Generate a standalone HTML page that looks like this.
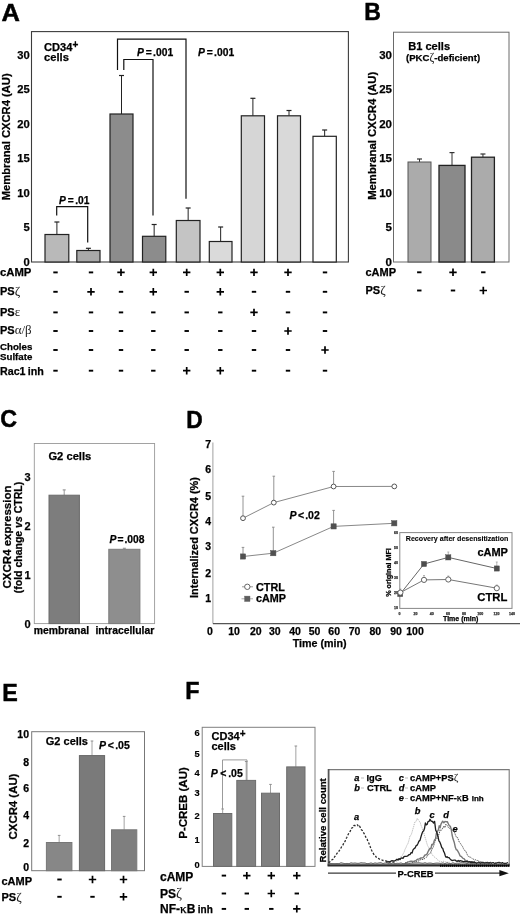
<!DOCTYPE html>
<html><head><meta charset="utf-8"><title>Figure</title>
<style>html,body{margin:0;padding:0;background:#fff;}svg{display:block;will-change:transform;}text{font-family:"Liberation Sans",sans-serif;}</style>
</head><body>
<svg width="520" height="916" viewBox="0 0 520 916" font-family="Liberation Sans, sans-serif">
<rect x="0" y="0" width="520" height="916" fill="#fff"/>
<text transform="translate(1.5,20.8) scale(1.04,1)" font-size="24.5" font-weight="bold" fill="#000" stroke="#000" stroke-width="0.5">A</text>
<text transform="translate(364.2,19.6) scale(0.96,1)" font-size="24" font-weight="bold" fill="#000" stroke="#000" stroke-width="0.5">B</text>
<text transform="translate(0.3,427.3) scale(0.97,1)" font-size="24" font-weight="bold" fill="#000" stroke="#000" stroke-width="0.5">C</text>
<text transform="translate(186.2,428) scale(0.95,1)" font-size="24" font-weight="bold" fill="#000" stroke="#000" stroke-width="0.5">D</text>
<text transform="translate(2.2,701.2) scale(0.97,1)" font-size="24" font-weight="bold" fill="#000" stroke="#000" stroke-width="0.5">E</text>
<text transform="translate(185.2,699) scale(0.97,1)" font-size="24" font-weight="bold" fill="#000" stroke="#000" stroke-width="0.5">F</text>
<rect x="31.5" y="31.6" width="316.9" height="230.4" fill="none" stroke="#3c3c3c" stroke-width="1.1" />
<text x="29.8" y="265.6" font-size="11.2" text-anchor="end" font-weight="bold" font-style="normal" fill="#000" stroke="#000" stroke-width="0.25" >0</text>
<text x="29.8" y="231.1" font-size="11.2" text-anchor="end" font-weight="bold" font-style="normal" fill="#000" stroke="#000" stroke-width="0.25" >5</text>
<text x="29.8" y="196.6" font-size="11.2" text-anchor="end" font-weight="bold" font-style="normal" fill="#000" stroke="#000" stroke-width="0.25" >10</text>
<text x="29.8" y="162.1" font-size="11.2" text-anchor="end" font-weight="bold" font-style="normal" fill="#000" stroke="#000" stroke-width="0.25" >15</text>
<text x="29.8" y="127.6" font-size="11.2" text-anchor="end" font-weight="bold" font-style="normal" fill="#000" stroke="#000" stroke-width="0.25" >20</text>
<text x="29.8" y="93.1" font-size="11.2" text-anchor="end" font-weight="bold" font-style="normal" fill="#000" stroke="#000" stroke-width="0.25" >25</text>
<text x="29.8" y="58.6" font-size="11.2" text-anchor="end" font-weight="bold" font-style="normal" fill="#000" stroke="#000" stroke-width="0.25" >30</text>
<text transform="translate(9.7,136.8) rotate(-90)" font-size="11.2" text-anchor="middle" font-weight="bold" fill="#000" stroke="#000" stroke-width="0.25" >Membranal CXCR4 (AU)</text>
<text x="44" y="51.3" font-size="11.1" text-anchor="start" font-weight="bold" font-style="normal" fill="#000" stroke="#000" stroke-width="0.25" >CD34<tspan dy="-3" font-size="10">+</tspan></text>
<text x="44" y="61.2" font-size="11.2" text-anchor="start" font-weight="bold" font-style="normal" fill="#000" stroke="#000" stroke-width="0.25" >cells</text>
<line x1="56.9" y1="222" x2="56.9" y2="234.5" stroke="#222" stroke-width="1.0" />
<line x1="54.4" y1="222" x2="59.4" y2="222" stroke="#222" stroke-width="1.2" />
<rect x="45" y="234.5" width="23.799999999999997" height="27.5" fill="#b9b9b9" stroke="#222" stroke-width="1.2" />
<line x1="88.4" y1="248.3" x2="88.4" y2="250.5" stroke="#222" stroke-width="1.0" />
<line x1="85.9" y1="248.3" x2="90.9" y2="248.3" stroke="#222" stroke-width="1.2" />
<rect x="76.8" y="250.5" width="23.200000000000003" height="11.5" fill="#a9a9a9" stroke="#222" stroke-width="1.2" />
<line x1="121.5" y1="75.5" x2="121.5" y2="114" stroke="#222" stroke-width="1.0" />
<line x1="119.0" y1="75.5" x2="124.0" y2="75.5" stroke="#222" stroke-width="1.2" />
<rect x="110" y="114" width="23" height="148.0" fill="#8c8c8c" stroke="#222" stroke-width="1.2" />
<line x1="154.15" y1="224.5" x2="154.15" y2="236.3" stroke="#222" stroke-width="1.0" />
<line x1="151.65" y1="224.5" x2="156.65" y2="224.5" stroke="#222" stroke-width="1.2" />
<rect x="142.5" y="236.3" width="23.30000000000001" height="25.69999999999999" fill="#8c8c8c" stroke="#222" stroke-width="1.2" />
<line x1="188.15" y1="208" x2="188.15" y2="220.5" stroke="#222" stroke-width="1.0" />
<line x1="185.65" y1="208" x2="190.65" y2="208" stroke="#222" stroke-width="1.2" />
<rect x="176.3" y="220.5" width="23.69999999999999" height="41.5" fill="#c4c4c4" stroke="#222" stroke-width="1.2" />
<line x1="220.65" y1="227" x2="220.65" y2="241.5" stroke="#222" stroke-width="1.0" />
<line x1="218.15" y1="227" x2="223.15" y2="227" stroke="#222" stroke-width="1.2" />
<rect x="209.3" y="241.5" width="22.69999999999999" height="20.5" fill="#dadada" stroke="#222" stroke-width="1.2" />
<line x1="252.9" y1="98.3" x2="252.9" y2="115.8" stroke="#222" stroke-width="1.0" />
<line x1="250.4" y1="98.3" x2="255.4" y2="98.3" stroke="#222" stroke-width="1.2" />
<rect x="241.3" y="115.8" width="23.19999999999999" height="146.2" fill="#d6d6d6" stroke="#222" stroke-width="1.2" />
<line x1="289.0" y1="110.5" x2="289.0" y2="115.8" stroke="#222" stroke-width="1.0" />
<line x1="286.5" y1="110.5" x2="291.5" y2="110.5" stroke="#222" stroke-width="1.2" />
<rect x="277.5" y="115.8" width="23.0" height="146.2" fill="#d9d9d9" stroke="#222" stroke-width="1.2" />
<line x1="324.65" y1="130" x2="324.65" y2="136.3" stroke="#222" stroke-width="1.0" />
<line x1="322.15" y1="130" x2="327.15" y2="130" stroke="#222" stroke-width="1.2" />
<rect x="313" y="136.3" width="23.30000000000001" height="125.69999999999999" fill="#ffffff" stroke="#222" stroke-width="1.2" />
<path d="M117.5 70V39.2H186V198.8" fill="none" stroke="#111" stroke-width="1.2"/>
<path d="M123.8 70V59.5H153V215.5" fill="none" stroke="#111" stroke-width="1.2"/>
<path d="M56.7 215.5V206.7H87.7V242.5" fill="none" stroke="#111" stroke-width="1.2"/>
<text x="137" y="55.8" font-size="10.3" text-anchor="start" font-weight="bold" font-style="normal" fill="#000" stroke="#000" stroke-width="0.25" ><tspan font-style="italic">P</tspan><tspan dx="1.8">=</tspan><tspan dx="1.4">.001</tspan></text>
<text x="198" y="55.8" font-size="10.3" text-anchor="start" font-weight="bold" font-style="normal" fill="#000" stroke="#000" stroke-width="0.25" ><tspan font-style="italic">P</tspan><tspan dx="1.8">=</tspan><tspan dx="1.4">.001</tspan></text>
<text x="59" y="203.5" font-size="10.2" text-anchor="start" font-weight="bold" font-style="normal" fill="#000" stroke="#000" stroke-width="0.25" ><tspan font-style="italic">P</tspan><tspan dx="2.0">=</tspan><tspan dx="1.4">.01</tspan></text>
<text x="0" y="276" font-size="11.3" text-anchor="start" font-weight="bold" font-style="normal" fill="#000" stroke="#000" stroke-width="0.25" >cAMP</text>
<text x="0" y="295" font-size="11" text-anchor="start" font-weight="bold" font-style="normal" fill="#000" stroke="#000" stroke-width="0.25" >PS<tspan font-family="Liberation Serif, serif" font-weight="normal" font-size="120%" stroke="none" fill="#222">ζ</tspan></text>
<text x="0" y="315.5" font-size="11" text-anchor="start" font-weight="bold" font-style="normal" fill="#000" stroke="#000" stroke-width="0.25" >PS<tspan font-family="Liberation Serif, serif" font-weight="normal" font-size="118%" stroke="none" fill="#222">ε</tspan></text>
<text x="0" y="334" font-size="11" text-anchor="start" font-weight="bold" font-style="normal" fill="#000" stroke="#000" stroke-width="0.25" >PS<tspan font-family="Liberation Serif, serif" font-weight="normal" font-size="118%" stroke="none" fill="#222">α/β</tspan></text>
<text x="0" y="350.2" font-size="9.7" text-anchor="start" font-weight="bold" font-style="normal" fill="#000" stroke="#000" stroke-width="0.25" >Choles</text>
<text x="0" y="359.8" font-size="9.7" text-anchor="start" font-weight="bold" font-style="normal" fill="#000" stroke="#000" stroke-width="0.25" >Sulfate</text>
<text x="0" y="375" font-size="10.7" text-anchor="start" font-weight="bold" font-style="normal" fill="#000" stroke="#000" stroke-width="0.25" word-spacing="-0.8">Rac1 inh</text>
<path d="M53.3 272.4H57.7" stroke="#000" stroke-width="1.9" fill="none"/>
<path d="M88.8 272.4H93.2" stroke="#000" stroke-width="1.9" fill="none"/>
<path d="M117.3 272.4H124.7M121 268.7V276.09999999999997" stroke="#000" stroke-width="1.7" fill="none"/>
<path d="M149.60000000000002 272.4H157.0M153.3 268.7V276.09999999999997" stroke="#000" stroke-width="1.7" fill="none"/>
<path d="M183.0 272.4H190.39999999999998M186.7 268.7V276.09999999999997" stroke="#000" stroke-width="1.7" fill="none"/>
<path d="M216.60000000000002 272.4H224.0M220.3 268.7V276.09999999999997" stroke="#000" stroke-width="1.7" fill="none"/>
<path d="M250.3 272.4H257.7M254 268.7V276.09999999999997" stroke="#000" stroke-width="1.7" fill="none"/>
<path d="M284.3 272.4H291.7M288 268.7V276.09999999999997" stroke="#000" stroke-width="1.7" fill="none"/>
<path d="M322.8 272.4H327.2" stroke="#000" stroke-width="1.9" fill="none"/>
<path d="M53.3 291.8H57.7" stroke="#000" stroke-width="1.9" fill="none"/>
<path d="M87.3 291.8H94.7M91 288.1V295.5" stroke="#000" stroke-width="1.7" fill="none"/>
<path d="M118.8 291.8H123.2" stroke="#000" stroke-width="1.9" fill="none"/>
<path d="M149.60000000000002 291.8H157.0M153.3 288.1V295.5" stroke="#000" stroke-width="1.7" fill="none"/>
<path d="M184.5 291.8H188.89999999999998" stroke="#000" stroke-width="1.9" fill="none"/>
<path d="M216.60000000000002 291.8H224.0M220.3 288.1V295.5" stroke="#000" stroke-width="1.7" fill="none"/>
<path d="M251.8 291.8H256.2" stroke="#000" stroke-width="1.9" fill="none"/>
<path d="M285.8 291.8H290.2" stroke="#000" stroke-width="1.9" fill="none"/>
<path d="M322.8 291.8H327.2" stroke="#000" stroke-width="1.9" fill="none"/>
<path d="M53.3 312.4H57.7" stroke="#000" stroke-width="1.9" fill="none"/>
<path d="M88.8 312.4H93.2" stroke="#000" stroke-width="1.9" fill="none"/>
<path d="M118.8 312.4H123.2" stroke="#000" stroke-width="1.9" fill="none"/>
<path d="M151.10000000000002 312.4H155.5" stroke="#000" stroke-width="1.9" fill="none"/>
<path d="M184.5 312.4H188.89999999999998" stroke="#000" stroke-width="1.9" fill="none"/>
<path d="M218.10000000000002 312.4H222.5" stroke="#000" stroke-width="1.9" fill="none"/>
<path d="M250.3 312.4H257.7M254 308.7V316.09999999999997" stroke="#000" stroke-width="1.7" fill="none"/>
<path d="M285.8 312.4H290.2" stroke="#000" stroke-width="1.9" fill="none"/>
<path d="M322.8 312.4H327.2" stroke="#000" stroke-width="1.9" fill="none"/>
<path d="M53.3 331H57.7" stroke="#000" stroke-width="1.9" fill="none"/>
<path d="M88.8 331H93.2" stroke="#000" stroke-width="1.9" fill="none"/>
<path d="M118.8 331H123.2" stroke="#000" stroke-width="1.9" fill="none"/>
<path d="M151.10000000000002 331H155.5" stroke="#000" stroke-width="1.9" fill="none"/>
<path d="M184.5 331H188.89999999999998" stroke="#000" stroke-width="1.9" fill="none"/>
<path d="M218.10000000000002 331H222.5" stroke="#000" stroke-width="1.9" fill="none"/>
<path d="M251.8 331H256.2" stroke="#000" stroke-width="1.9" fill="none"/>
<path d="M284.3 331H291.7M288 327.3V334.7" stroke="#000" stroke-width="1.7" fill="none"/>
<path d="M322.8 331H327.2" stroke="#000" stroke-width="1.9" fill="none"/>
<path d="M53.3 350H57.7" stroke="#000" stroke-width="1.9" fill="none"/>
<path d="M88.8 350H93.2" stroke="#000" stroke-width="1.9" fill="none"/>
<path d="M118.8 350H123.2" stroke="#000" stroke-width="1.9" fill="none"/>
<path d="M151.10000000000002 350H155.5" stroke="#000" stroke-width="1.9" fill="none"/>
<path d="M184.5 350H188.89999999999998" stroke="#000" stroke-width="1.9" fill="none"/>
<path d="M218.10000000000002 350H222.5" stroke="#000" stroke-width="1.9" fill="none"/>
<path d="M251.8 350H256.2" stroke="#000" stroke-width="1.9" fill="none"/>
<path d="M285.8 350H290.2" stroke="#000" stroke-width="1.9" fill="none"/>
<path d="M321.3 350H328.7M325 346.3V353.7" stroke="#000" stroke-width="1.7" fill="none"/>
<path d="M53.3 370.7H57.7" stroke="#000" stroke-width="1.9" fill="none"/>
<path d="M88.8 370.7H93.2" stroke="#000" stroke-width="1.9" fill="none"/>
<path d="M118.8 370.7H123.2" stroke="#000" stroke-width="1.9" fill="none"/>
<path d="M151.10000000000002 370.7H155.5" stroke="#000" stroke-width="1.9" fill="none"/>
<path d="M183.0 370.7H190.39999999999998M186.7 367.0V374.4" stroke="#000" stroke-width="1.7" fill="none"/>
<path d="M216.60000000000002 370.7H224.0M220.3 367.0V374.4" stroke="#000" stroke-width="1.7" fill="none"/>
<path d="M251.8 370.7H256.2" stroke="#000" stroke-width="1.9" fill="none"/>
<path d="M285.8 370.7H290.2" stroke="#000" stroke-width="1.9" fill="none"/>
<path d="M322.8 370.7H327.2" stroke="#000" stroke-width="1.9" fill="none"/>
<rect x="393.5" y="32.2" width="115.5" height="229.8" fill="none" stroke="#6a6a6a" stroke-width="1" />
<text x="392" y="265.8" font-size="11.5" text-anchor="end" font-weight="bold" font-style="normal" fill="#000" stroke="#000" stroke-width="0.25" >0</text>
<text x="392" y="231.3" font-size="11.5" text-anchor="end" font-weight="bold" font-style="normal" fill="#000" stroke="#000" stroke-width="0.25" >5</text>
<text x="392" y="196.8" font-size="11.5" text-anchor="end" font-weight="bold" font-style="normal" fill="#000" stroke="#000" stroke-width="0.25" >10</text>
<text x="392" y="162.3" font-size="11.5" text-anchor="end" font-weight="bold" font-style="normal" fill="#000" stroke="#000" stroke-width="0.25" >15</text>
<text x="392" y="127.8" font-size="11.5" text-anchor="end" font-weight="bold" font-style="normal" fill="#000" stroke="#000" stroke-width="0.25" >20</text>
<text x="392" y="93.3" font-size="11.5" text-anchor="end" font-weight="bold" font-style="normal" fill="#000" stroke="#000" stroke-width="0.25" >25</text>
<text x="392" y="58.8" font-size="11.5" text-anchor="end" font-weight="bold" font-style="normal" fill="#000" stroke="#000" stroke-width="0.25" >30</text>
<text transform="translate(376,135.8) rotate(-90)" font-size="11.3" text-anchor="middle" font-weight="bold" fill="#000" stroke="#000" stroke-width="0.25" >Membranal CXCR4 (AU)</text>
<text x="408.2" y="49.5" font-size="11.1" text-anchor="start" font-weight="bold" font-style="normal" fill="#000" stroke="#000" stroke-width="0.25" >B1 cells</text>
<text x="406" y="61.2" font-size="9.6" text-anchor="start" font-weight="bold" font-style="normal" fill="#000" stroke="#000" stroke-width="0.25" >(PKC<tspan font-family="Liberation Serif, serif" font-weight="normal" font-size="120%" stroke="none" fill="#222">ζ</tspan>-deficient)</text>
<line x1="419.5" y1="159" x2="419.5" y2="162" stroke="#333" stroke-width="1.0" />
<line x1="417.0" y1="159" x2="422.0" y2="159" stroke="#333" stroke-width="1.2" />
<rect x="408" y="162" width="23" height="100.0" fill="#ababab" stroke="#555" stroke-width="1" />
<line x1="452.0" y1="152.6" x2="452.0" y2="165.4" stroke="#333" stroke-width="1.0" />
<line x1="449.5" y1="152.6" x2="454.5" y2="152.6" stroke="#333" stroke-width="1.2" />
<rect x="439" y="165.4" width="26" height="96.6" fill="#8a8a8a" stroke="#222" stroke-width="1.3" />
<line x1="482.95" y1="154" x2="482.95" y2="157.2" stroke="#333" stroke-width="1.0" />
<line x1="480.45" y1="154" x2="485.45" y2="154" stroke="#333" stroke-width="1.2" />
<rect x="471.5" y="157.2" width="22.899999999999977" height="104.80000000000001" fill="#ababab" stroke="#222" stroke-width="1.3" />
<text x="365.5" y="275.8" font-size="11" text-anchor="start" font-weight="bold" font-style="normal" fill="#000" stroke="#000" stroke-width="0.25" >cAMP</text>
<text x="365.5" y="293.8" font-size="11" text-anchor="start" font-weight="bold" font-style="normal" fill="#000" stroke="#000" stroke-width="0.25" >PS<tspan font-family="Liberation Serif, serif" font-weight="normal" font-size="120%" stroke="none" fill="#222">ζ</tspan></text>
<path d="M417.1 272.3H421.5" stroke="#000" stroke-width="1.9" fill="none"/>
<path d="M417.1 290.5H421.5" stroke="#000" stroke-width="1.9" fill="none"/>
<path d="M449.3 272.3H456.7M453 268.6V276.0" stroke="#000" stroke-width="1.7" fill="none"/>
<path d="M450.8 290.5H455.2" stroke="#000" stroke-width="1.9" fill="none"/>
<path d="M481.1 272.3H485.5" stroke="#000" stroke-width="1.9" fill="none"/>
<path d="M479.6 290.5H487.0M483.3 286.8V294.2" stroke="#000" stroke-width="1.7" fill="none"/>
<rect x="34.3" y="443.5" width="120.3" height="180.10000000000002" fill="none" stroke="#999" stroke-width="0.9" />
<text x="30.5" y="627.8000000000001" font-size="11" text-anchor="end" font-weight="bold" font-style="normal" fill="#000" stroke="#000" stroke-width="0.25" >0</text>
<text x="30.5" y="579.4" font-size="11" text-anchor="end" font-weight="bold" font-style="normal" fill="#000" stroke="#000" stroke-width="0.25" >1</text>
<text x="30.5" y="530.2" font-size="11" text-anchor="end" font-weight="bold" font-style="normal" fill="#000" stroke="#000" stroke-width="0.25" >2</text>
<text x="30.5" y="481.0" font-size="11" text-anchor="end" font-weight="bold" font-style="normal" fill="#000" stroke="#000" stroke-width="0.25" >3</text>
<text transform="translate(10.5,537) rotate(-90)" font-size="11.5" text-anchor="middle" font-weight="bold" fill="#000" stroke="#000" stroke-width="0.25" >CXCR4 expression</text>
<text transform="translate(22,537.5) rotate(-90)" font-size="10.5" text-anchor="middle" font-weight="bold" fill="#000" stroke="#000" stroke-width="0.25" >(fold change <tspan font-style="italic">vs</tspan> CTRL)</text>
<text x="48.4" y="459.5" font-size="11.2" text-anchor="start" font-weight="bold" font-style="normal" fill="#000" stroke="#000" stroke-width="0.25" >G2 cells</text>
<line x1="64.2" y1="489.9" x2="64.2" y2="495.2" stroke="#999" stroke-width="1.0" />
<line x1="62.7" y1="489.9" x2="65.7" y2="489.9" stroke="#999" stroke-width="1.2" />
<rect x="49" y="495.2" width="30.400000000000006" height="128.40000000000003" fill="#7d7d7d" stroke="#6a6a6a" stroke-width="1" />
<line x1="124.35" y1="548.3" x2="124.35" y2="549.3" stroke="#999" stroke-width="1.0" />
<line x1="122.85" y1="548.3" x2="125.85" y2="548.3" stroke="#999" stroke-width="1.2" />
<rect x="108.8" y="549.3" width="31.10000000000001" height="74.30000000000007" fill="#8e8e8e" stroke="#7c7c7c" stroke-width="1" />
<text x="109.5" y="542.8" font-size="10.3" text-anchor="start" font-weight="bold" font-style="normal" fill="#000" stroke="#000" stroke-width="0.25" ><tspan font-style="italic">P</tspan><tspan dx="1.2">=</tspan><tspan dx="0.8">.008</tspan></text>
<text x="33.7" y="633.7" font-size="10.4" text-anchor="start" font-weight="bold" font-style="normal" fill="#000" stroke="#000" stroke-width="0.25" >membranal</text>
<text x="95.4" y="633.7" font-size="10.4" text-anchor="start" font-weight="bold" font-style="normal" fill="#000" stroke="#000" stroke-width="0.25" >intracellular</text>
<line x1="212.9" y1="442.5" x2="212.9" y2="623.7" stroke="#a0a0a0" stroke-width="1" />
<line x1="213" y1="623.7" x2="520" y2="623.7" stroke="#555" stroke-width="1.2" />
<text x="211" y="448" font-size="10.5" text-anchor="end" font-weight="bold" font-style="normal" fill="#000" stroke="#000" stroke-width="0.25" >7</text>
<text x="211" y="473.3" font-size="10.5" text-anchor="end" font-weight="bold" font-style="normal" fill="#000" stroke="#000" stroke-width="0.25" >6</text>
<text x="211" y="499.5" font-size="10.5" text-anchor="end" font-weight="bold" font-style="normal" fill="#000" stroke="#000" stroke-width="0.25" >5</text>
<text x="211" y="525" font-size="10.5" text-anchor="end" font-weight="bold" font-style="normal" fill="#000" stroke="#000" stroke-width="0.25" >4</text>
<text x="211" y="550" font-size="10.5" text-anchor="end" font-weight="bold" font-style="normal" fill="#000" stroke="#000" stroke-width="0.25" >3</text>
<text x="211" y="577" font-size="10.5" text-anchor="end" font-weight="bold" font-style="normal" fill="#000" stroke="#000" stroke-width="0.25" >2</text>
<text x="211" y="602.4" font-size="10.5" text-anchor="end" font-weight="bold" font-style="normal" fill="#000" stroke="#000" stroke-width="0.25" >1</text>
<text x="210" y="634.6" font-size="10.5" text-anchor="middle" font-weight="bold" font-style="normal" fill="#000" stroke="#000" stroke-width="0.25" >0</text>
<text x="234" y="634.6" font-size="10.5" text-anchor="middle" font-weight="bold" font-style="normal" fill="#000" stroke="#000" stroke-width="0.25" >10</text>
<text x="255.8" y="634.6" font-size="10.5" text-anchor="middle" font-weight="bold" font-style="normal" fill="#000" stroke="#000" stroke-width="0.25" >20</text>
<text x="274.8" y="634.6" font-size="10.5" text-anchor="middle" font-weight="bold" font-style="normal" fill="#000" stroke="#000" stroke-width="0.25" >30</text>
<text x="295" y="634.6" font-size="10.5" text-anchor="middle" font-weight="bold" font-style="normal" fill="#000" stroke="#000" stroke-width="0.25" >40</text>
<text x="314.6" y="634.6" font-size="10.5" text-anchor="middle" font-weight="bold" font-style="normal" fill="#000" stroke="#000" stroke-width="0.25" >50</text>
<text x="334.2" y="634.6" font-size="10.5" text-anchor="middle" font-weight="bold" font-style="normal" fill="#000" stroke="#000" stroke-width="0.25" >60</text>
<text x="354.5" y="634.6" font-size="10.5" text-anchor="middle" font-weight="bold" font-style="normal" fill="#000" stroke="#000" stroke-width="0.25" >70</text>
<text x="375.3" y="634.6" font-size="10.5" text-anchor="middle" font-weight="bold" font-style="normal" fill="#000" stroke="#000" stroke-width="0.25" >80</text>
<text x="396" y="634.6" font-size="10.5" text-anchor="middle" font-weight="bold" font-style="normal" fill="#000" stroke="#000" stroke-width="0.25" >90</text>
<text x="415" y="634.6" font-size="10.5" text-anchor="middle" font-weight="bold" font-style="normal" fill="#000" stroke="#000" stroke-width="0.25" >100</text>
<text x="292.7" y="647" font-size="10.7" text-anchor="start" font-weight="bold" font-style="normal" fill="#000" stroke="#000" stroke-width="0.25" >Time (min)</text>
<text transform="translate(197.5,537.5) rotate(-90)" font-size="10.95" text-anchor="middle" font-weight="bold" fill="#000" stroke="#000" stroke-width="0.25" >Internalized CXCR4 (%)</text>
<line x1="243" y1="496.2" x2="243" y2="518.2" stroke="#888" stroke-width="0.9" />
<line x1="241.7" y1="496.2" x2="244.3" y2="496.2" stroke="#888" stroke-width="0.9" />
<line x1="273.8" y1="476.2" x2="273.8" y2="502.6" stroke="#888" stroke-width="0.9" />
<line x1="272.5" y1="476.2" x2="275.1" y2="476.2" stroke="#888" stroke-width="0.9" />
<line x1="333.6" y1="471.4" x2="333.6" y2="486.5" stroke="#888" stroke-width="0.9" />
<line x1="332.3" y1="471.4" x2="334.90000000000003" y2="471.4" stroke="#888" stroke-width="0.9" />
<line x1="243" y1="547.4" x2="243" y2="556.5" stroke="#888" stroke-width="0.9" />
<line x1="241.7" y1="547.4" x2="244.3" y2="547.4" stroke="#888" stroke-width="0.9" />
<line x1="273.3" y1="527.2" x2="273.3" y2="553.2" stroke="#888" stroke-width="0.9" />
<line x1="272.0" y1="527.2" x2="274.6" y2="527.2" stroke="#888" stroke-width="0.9" />
<line x1="333.6" y1="510.4" x2="333.6" y2="526.4" stroke="#888" stroke-width="0.9" />
<line x1="332.3" y1="510.4" x2="334.90000000000003" y2="510.4" stroke="#888" stroke-width="0.9" />
<polyline points="243,518.2 273.8,502.6 333.6,486.5 394.3,486.4" fill="none" stroke="#888" stroke-width="1"/>
<polyline points="243,556.5 273.3,553.2 333.6,526.4 394.3,523.3" fill="none" stroke="#888" stroke-width="1"/>
<circle cx="243" cy="518.2" r="2.4" fill="#fff" stroke="#555" stroke-width="1"/>
<circle cx="273.8" cy="502.6" r="2.4" fill="#fff" stroke="#555" stroke-width="1"/>
<circle cx="333.6" cy="486.5" r="2.4" fill="#fff" stroke="#555" stroke-width="1"/>
<circle cx="394.3" cy="486.4" r="2.4" fill="#fff" stroke="#555" stroke-width="1"/>
<rect x="240.4" y="553.9" width="5.2" height="5.2" fill="#505050" stroke="#505050" stroke-width="0.5" />
<rect x="270.7" y="550.6" width="5.2" height="5.2" fill="#505050" stroke="#505050" stroke-width="0.5" />
<rect x="331.0" y="523.8" width="5.2" height="5.2" fill="#505050" stroke="#505050" stroke-width="0.5" />
<rect x="391.7" y="520.6999999999999" width="5.2" height="5.2" fill="#505050" stroke="#505050" stroke-width="0.5" />
<text x="289.5" y="518.5" font-size="10.5" text-anchor="start" font-weight="bold" font-style="normal" fill="#000" stroke="#000" stroke-width="0.25" ><tspan font-style="italic">P</tspan><tspan dx="1.5">&lt;</tspan><tspan dx="1.0">.02</tspan></text>
<line x1="242" y1="586.8" x2="253" y2="586.8" stroke="#999" stroke-width="1" />
<circle cx="247.3" cy="586.8" r="2.7" fill="#fff" stroke="#666" stroke-width="1"/>
<text x="256" y="590.6" font-size="10.8" text-anchor="start" font-weight="bold" font-style="normal" fill="#000" stroke="#000" stroke-width="0.25" >CTRL</text>
<line x1="241.5" y1="598.8" x2="253" y2="598.8" stroke="#aaa" stroke-width="1" />
<rect x="244.6" y="596.1" width="5.4" height="5.4" fill="#5e5e5e" stroke="#5e5e5e" stroke-width="0.4" />
<text x="256" y="602.4" font-size="10.8" text-anchor="start" font-weight="bold" font-style="normal" fill="#000" stroke="#000" stroke-width="0.25" >cAMP</text>
<rect x="399.8" y="532.6" width="112.2" height="75.8" fill="#fff" stroke="#888" stroke-width="1" />
<text x="405.8" y="540.8" font-size="7.1" text-anchor="start" font-weight="bold" font-style="normal" fill="#000" stroke="#000" stroke-width="0.1" >Recovery after desensitization</text>
<text transform="translate(390.6,572.5) rotate(-90)" font-size="7.2" text-anchor="middle" font-weight="bold" fill="#000" stroke="#000" stroke-width="0.25" >% original MFI</text>
<text x="398" y="534.1999999999999" font-size="3.6" text-anchor="end" font-weight="bold" font-style="normal" fill="#333" stroke="#333" stroke-width="0.25" >60</text>
<text x="398" y="549.1" font-size="3.6" text-anchor="end" font-weight="bold" font-style="normal" fill="#333" stroke="#333" stroke-width="0.25" >50</text>
<text x="398" y="564.0" font-size="3.6" text-anchor="end" font-weight="bold" font-style="normal" fill="#333" stroke="#333" stroke-width="0.25" >40</text>
<text x="398" y="579.1999999999999" font-size="3.6" text-anchor="end" font-weight="bold" font-style="normal" fill="#333" stroke="#333" stroke-width="0.25" >30</text>
<text x="398" y="594.1" font-size="3.6" text-anchor="end" font-weight="bold" font-style="normal" fill="#333" stroke="#333" stroke-width="0.25" >20</text>
<text x="398" y="609.4" font-size="3.6" text-anchor="end" font-weight="bold" font-style="normal" fill="#333" stroke="#333" stroke-width="0.25" >10</text>
<text x="399.5" y="614.8" font-size="3.6" text-anchor="middle" font-weight="bold" font-style="normal" fill="#333" stroke="#333" stroke-width="0.25" >0</text>
<text x="415.5" y="614.8" font-size="3.6" text-anchor="middle" font-weight="bold" font-style="normal" fill="#333" stroke="#333" stroke-width="0.25" >20</text>
<text x="431.7" y="614.8" font-size="3.6" text-anchor="middle" font-weight="bold" font-style="normal" fill="#333" stroke="#333" stroke-width="0.25" >40</text>
<text x="448" y="614.8" font-size="3.6" text-anchor="middle" font-weight="bold" font-style="normal" fill="#333" stroke="#333" stroke-width="0.25" >60</text>
<text x="464" y="614.8" font-size="3.6" text-anchor="middle" font-weight="bold" font-style="normal" fill="#333" stroke="#333" stroke-width="0.25" >80</text>
<text x="480.2" y="614.8" font-size="3.6" text-anchor="middle" font-weight="bold" font-style="normal" fill="#333" stroke="#333" stroke-width="0.25" >100</text>
<text x="496.5" y="614.8" font-size="3.6" text-anchor="middle" font-weight="bold" font-style="normal" fill="#333" stroke="#333" stroke-width="0.25" >120</text>
<text x="512" y="614.8" font-size="3.6" text-anchor="middle" font-weight="bold" font-style="normal" fill="#333" stroke="#333" stroke-width="0.25" >140</text>
<text x="443" y="621" font-size="7" text-anchor="start" font-weight="bold" font-style="normal" fill="#000" stroke="#000" stroke-width="0.25" >Time (min)</text>
<line x1="448.3" y1="552" x2="448.3" y2="557.4" stroke="#999" stroke-width="0.7" />
<line x1="447.3" y1="552" x2="449.3" y2="552" stroke="#999" stroke-width="0.7" />
<line x1="496.8" y1="562" x2="496.8" y2="568.5" stroke="#999" stroke-width="0.7" />
<line x1="495.8" y1="562" x2="497.8" y2="562" stroke="#999" stroke-width="0.7" />
<line x1="400.4" y1="589" x2="400.4" y2="592.6" stroke="#999" stroke-width="0.7" />
<line x1="399.4" y1="589" x2="401.4" y2="589" stroke="#999" stroke-width="0.7" />
<line x1="424" y1="575.5" x2="424" y2="579.9" stroke="#999" stroke-width="0.7" />
<line x1="423" y1="575.5" x2="425" y2="575.5" stroke="#999" stroke-width="0.7" />
<line x1="448.3" y1="576" x2="448.3" y2="579.5" stroke="#999" stroke-width="0.7" />
<line x1="447.3" y1="576" x2="449.3" y2="576" stroke="#999" stroke-width="0.7" />
<line x1="496.8" y1="585" x2="496.8" y2="588.2" stroke="#999" stroke-width="0.7" />
<line x1="495.8" y1="585" x2="497.8" y2="585" stroke="#999" stroke-width="0.7" />
<polyline points="400.2,594 424,564 448.3,557.4 496.8,568.5" fill="none" stroke="#666" stroke-width="1"/>
<polyline points="400.4,592.6 424,579.9 448.3,579.5 496.8,588.2" fill="none" stroke="#777" stroke-width="1"/>
<rect x="397.59999999999997" y="591.4" width="5.2" height="5.2" fill="#4d4d4d" stroke="#4d4d4d" stroke-width="0.4" />
<rect x="421.4" y="561.4" width="5.2" height="5.2" fill="#4d4d4d" stroke="#4d4d4d" stroke-width="0.4" />
<rect x="445.7" y="554.8" width="5.2" height="5.2" fill="#4d4d4d" stroke="#4d4d4d" stroke-width="0.4" />
<rect x="494.2" y="565.9" width="5.2" height="5.2" fill="#4d4d4d" stroke="#4d4d4d" stroke-width="0.4" />
<circle cx="400.4" cy="592.6" r="2.6" fill="#fff" stroke="#555" stroke-width="0.9"/>
<circle cx="424" cy="579.9" r="2.6" fill="#fff" stroke="#555" stroke-width="0.9"/>
<circle cx="448.3" cy="579.5" r="2.6" fill="#fff" stroke="#555" stroke-width="0.9"/>
<circle cx="496.8" cy="588.2" r="2.6" fill="#fff" stroke="#555" stroke-width="0.9"/>
<text x="477.4" y="556.3" font-size="11" text-anchor="start" font-weight="bold" font-style="normal" fill="#000" stroke="#000" stroke-width="0.25" >cAMP</text>
<text x="477.3" y="600.5" font-size="11.3" text-anchor="start" font-weight="bold" font-style="normal" fill="#000" stroke="#000" stroke-width="0.25" >CTRL</text>
<rect x="31.7" y="731.7" width="112.8" height="139.0" fill="none" stroke="#777" stroke-width="1" />
<text x="29" y="737.7" font-size="10.5" text-anchor="end" font-weight="bold" font-style="normal" fill="#000" stroke="#000" stroke-width="0.25" >10</text>
<text x="29" y="765.5" font-size="10.5" text-anchor="end" font-weight="bold" font-style="normal" fill="#000" stroke="#000" stroke-width="0.25" >8</text>
<text x="29" y="792.3" font-size="10.5" text-anchor="end" font-weight="bold" font-style="normal" fill="#000" stroke="#000" stroke-width="0.25" >6</text>
<text x="29" y="819.3" font-size="10.5" text-anchor="end" font-weight="bold" font-style="normal" fill="#000" stroke="#000" stroke-width="0.25" >4</text>
<text x="29" y="846.5" font-size="10.5" text-anchor="end" font-weight="bold" font-style="normal" fill="#000" stroke="#000" stroke-width="0.25" >2</text>
<text x="29" y="871" font-size="10.5" text-anchor="end" font-weight="bold" font-style="normal" fill="#000" stroke="#000" stroke-width="0.25" >0</text>
<text transform="translate(17.2,806.5) rotate(-90)" font-size="11.4" text-anchor="middle" font-weight="bold" fill="#000" stroke="#000" stroke-width="0.25" >CXCR4 (AU)</text>
<text x="45.8" y="744.6" font-size="11" text-anchor="start" font-weight="bold" font-style="normal" fill="#000" stroke="#000" stroke-width="0.25" >G2 cells</text>
<text x="99" y="748.8" font-size="10.5" text-anchor="start" font-weight="bold" font-style="normal" fill="#000" stroke="#000" stroke-width="0.25" ><tspan font-style="italic">P</tspan><tspan dx="1.8">&lt;</tspan><tspan dx="1.2">.05</tspan></text>
<line x1="59.150000000000006" y1="835.4" x2="59.150000000000006" y2="842.5" stroke="#8c8c8c" stroke-width="0.8" />
<line x1="57.85000000000001" y1="835.4" x2="60.45" y2="835.4" stroke="#8c8c8c" stroke-width="0.96" />
<rect x="46.4" y="842.5" width="25.500000000000007" height="28.200000000000045" fill="#878787" stroke="#777" stroke-width="1" />
<line x1="92.0" y1="741" x2="92.0" y2="755.6" stroke="#8c8c8c" stroke-width="0.8" />
<line x1="90.7" y1="741" x2="93.3" y2="741" stroke="#8c8c8c" stroke-width="0.96" />
<rect x="79.4" y="755.6" width="25.19999999999999" height="115.10000000000002" fill="#7a7a7a" stroke="#666" stroke-width="1" />
<line x1="124.15" y1="816.4" x2="124.15" y2="829.8" stroke="#8c8c8c" stroke-width="0.8" />
<line x1="122.85000000000001" y1="816.4" x2="125.45" y2="816.4" stroke="#8c8c8c" stroke-width="0.96" />
<rect x="111.5" y="829.8" width="25.30000000000001" height="40.90000000000009" fill="#7e7e7e" stroke="#777" stroke-width="1" />
<text x="1.5" y="885" font-size="11" text-anchor="start" font-weight="bold" font-style="normal" fill="#000" stroke="#000" stroke-width="0.25" >cAMP</text>
<text x="1.5" y="900.7" font-size="11" text-anchor="start" font-weight="bold" font-style="normal" fill="#000" stroke="#000" stroke-width="0.25" >PS<tspan font-family="Liberation Serif, serif" font-weight="normal" font-size="120%" stroke="none" fill="#222">ζ</tspan></text>
<path d="M57.3 879.5H61.7" stroke="#000" stroke-width="1.9" fill="none"/>
<path d="M57.3 896.8H61.7" stroke="#000" stroke-width="1.9" fill="none"/>
<path d="M88.8 879.5H96.2M92.5 875.8V883.2" stroke="#000" stroke-width="1.7" fill="none"/>
<path d="M90.3 896.8H94.7" stroke="#000" stroke-width="1.9" fill="none"/>
<path d="M119.8 879.5H127.2M123.5 875.8V883.2" stroke="#000" stroke-width="1.7" fill="none"/>
<path d="M119.8 896.8H127.2M123.5 893.0999999999999V900.5" stroke="#000" stroke-width="1.7" fill="none"/>
<rect x="202.2" y="727.3" width="112.8" height="139.10000000000002" fill="none" stroke="#808080" stroke-width="1" />
<text x="199.6" y="736.1" font-size="9.3" text-anchor="end" font-weight="bold" font-style="normal" fill="#000" stroke="#000" stroke-width="0.15" >6</text>
<text x="199.6" y="757.1" font-size="9.3" text-anchor="end" font-weight="bold" font-style="normal" fill="#000" stroke="#000" stroke-width="0.15" >5</text>
<text x="199.6" y="776.1" font-size="9.3" text-anchor="end" font-weight="bold" font-style="normal" fill="#000" stroke="#000" stroke-width="0.15" >4</text>
<text x="199.6" y="796.3" font-size="9.3" text-anchor="end" font-weight="bold" font-style="normal" fill="#000" stroke="#000" stroke-width="0.15" >3</text>
<text x="199.6" y="819.3" font-size="9.3" text-anchor="end" font-weight="bold" font-style="normal" fill="#000" stroke="#000" stroke-width="0.15" >2</text>
<text x="199.6" y="843.1" font-size="9.3" text-anchor="end" font-weight="bold" font-style="normal" fill="#000" stroke="#000" stroke-width="0.15" >1</text>
<text x="199.6" y="867.5" font-size="9.3" text-anchor="end" font-weight="bold" font-style="normal" fill="#000" stroke="#000" stroke-width="0.15" >0</text>
<text transform="translate(187,803) rotate(-90)" font-size="11.5" text-anchor="middle" font-weight="bold" fill="#000" stroke="#000" stroke-width="0.25" >P-CREB (AU)</text>
<text x="211.5" y="739.6" font-size="11" text-anchor="start" font-weight="bold" font-style="normal" fill="#000" stroke="#000" stroke-width="0.25" >CD34<tspan dy="-3" font-size="10">+</tspan></text>
<text x="211.5" y="750" font-size="11" text-anchor="start" font-weight="bold" font-style="normal" fill="#000" stroke="#000" stroke-width="0.25" >cells</text>
<path d="M222.5 809V759.9H247V780" fill="none" stroke="#909090" stroke-width="0.9"/>
<text x="210.8" y="776.9" font-size="10.5" text-anchor="start" font-weight="bold" font-style="normal" fill="#000" stroke="#000" stroke-width="0.25" ><tspan font-style="italic">P</tspan><tspan dx="2.4">&lt;</tspan><tspan dx="1.8">.05</tspan></text>
<line x1="222.65" y1="809" x2="222.65" y2="813.5" stroke="#8c8c8c" stroke-width="0.8" />
<line x1="221.35" y1="809" x2="223.95000000000002" y2="809" stroke="#8c8c8c" stroke-width="0.96" />
<rect x="213.5" y="813.5" width="18.30000000000001" height="52.89999999999998" fill="#808080" stroke="#6c6c6c" stroke-width="1" />
<line x1="246.2" y1="761.5" x2="246.2" y2="780.4" stroke="#8c8c8c" stroke-width="0.8" />
<line x1="244.89999999999998" y1="761.5" x2="247.5" y2="761.5" stroke="#8c8c8c" stroke-width="0.96" />
<rect x="236.8" y="780.4" width="18.799999999999983" height="86.0" fill="#808080" stroke="#6c6c6c" stroke-width="1" />
<line x1="270.5" y1="784.4" x2="270.5" y2="793.2" stroke="#8c8c8c" stroke-width="0.8" />
<line x1="269.2" y1="784.4" x2="271.8" y2="784.4" stroke="#8c8c8c" stroke-width="0.96" />
<rect x="261.5" y="793.2" width="18.0" height="73.19999999999993" fill="#808080" stroke="#6c6c6c" stroke-width="1" />
<line x1="295.85" y1="746" x2="295.85" y2="766.9" stroke="#8c8c8c" stroke-width="0.8" />
<line x1="294.55" y1="746" x2="297.15000000000003" y2="746" stroke="#8c8c8c" stroke-width="0.96" />
<rect x="286.7" y="766.9" width="18.30000000000001" height="99.5" fill="#808080" stroke="#6c6c6c" stroke-width="1" />
<text x="160" y="881.2" font-size="12" text-anchor="start" font-weight="bold" font-style="normal" fill="#000" stroke="#000" stroke-width="0.25" >cAMP</text>
<text x="160" y="897.8" font-size="12" text-anchor="start" font-weight="bold" font-style="normal" fill="#000" stroke="#000" stroke-width="0.25" >PS<tspan font-family="Liberation Serif, serif" font-weight="normal" font-size="120%" stroke="none" fill="#222">ζ</tspan></text>
<text x="160" y="913" font-size="12" text-anchor="start" font-weight="bold" font-style="normal" fill="#000" stroke="#000" stroke-width="0.25" >NF-<tspan font-family="Liberation Serif, serif" font-weight="normal" font-size="110%">κ</tspan>B<tspan font-size="10" dx="2.5">inh</tspan></text>
<path d="M221.70000000000002 875.6H226.1" stroke="#000" stroke-width="1.9" fill="none"/>
<path d="M243.10000000000002 875.6H250.5M246.8 871.9V879.3000000000001" stroke="#000" stroke-width="1.7" fill="none"/>
<path d="M267.6 875.6H275.0M271.3 871.9V879.3000000000001" stroke="#000" stroke-width="1.7" fill="none"/>
<path d="M293.1 875.6H300.5M296.8 871.9V879.3000000000001" stroke="#000" stroke-width="1.7" fill="none"/>
<path d="M221.70000000000002 893.5H226.1" stroke="#000" stroke-width="1.9" fill="none"/>
<path d="M244.60000000000002 893.5H249.0" stroke="#000" stroke-width="1.9" fill="none"/>
<path d="M267.6 893.5H275.0M271.3 889.8V897.2" stroke="#000" stroke-width="1.7" fill="none"/>
<path d="M294.6 893.5H299.0" stroke="#000" stroke-width="1.9" fill="none"/>
<path d="M221.70000000000002 908.9H226.1" stroke="#000" stroke-width="1.9" fill="none"/>
<path d="M244.60000000000002 908.9H249.0" stroke="#000" stroke-width="1.9" fill="none"/>
<path d="M269.1 908.9H273.5" stroke="#000" stroke-width="1.9" fill="none"/>
<path d="M293.1 908.9H300.5M296.8 905.1999999999999V912.6" stroke="#000" stroke-width="1.7" fill="none"/>
<path d="M328.6 769.6H509.2V865" fill="none" stroke="#7a7a7a" stroke-width="1.1"/>
<line x1="328.6" y1="769" x2="328.6" y2="866" stroke="#555" stroke-width="1.8" />
<line x1="327.6" y1="865.4" x2="509.6" y2="865.4" stroke="#2c2c2c" stroke-width="2.1" />
<line x1="440" y1="865.6" x2="509.6" y2="865.6" stroke="#000" stroke-width="2.3" stroke-dasharray="1.4 0.6"/>
<line x1="327.6" y1="863.9" x2="509.6" y2="863.9" stroke="#666" stroke-width="0.8" />
<text transform="translate(326.2,820.3) rotate(-90)" font-size="9.6" text-anchor="middle" font-weight="bold" fill="#000" stroke="#000" stroke-width="0.25" >Relative cell count</text>
<text x="354.2" y="780.8" font-size="9.3" text-anchor="start" font-weight="bold" font-style="normal" fill="#000" stroke="#000" stroke-width="0.25" ><tspan font-style="italic">a</tspan></text>
<line x1="361" y1="778" x2="364" y2="778" stroke="#bbb" stroke-width="1" />
<text x="366.5" y="780.8" font-size="9.3" text-anchor="start" font-weight="bold" font-style="normal" fill="#000" stroke="#000" stroke-width="0.25" >IgG</text>
<text x="354.2" y="790.8" font-size="9.3" text-anchor="start" font-weight="bold" font-style="normal" fill="#000" stroke="#000" stroke-width="0.25" ><tspan font-style="italic">b</tspan></text>
<line x1="361" y1="788" x2="364" y2="788" stroke="#bbb" stroke-width="1" />
<text x="367" y="790.8" font-size="9.3" text-anchor="start" font-weight="bold" font-style="normal" fill="#000" stroke="#000" stroke-width="0.25" >CTRL</text>
<text x="398.8" y="780.8" font-size="9.3" text-anchor="start" font-weight="bold" font-style="normal" fill="#000" stroke="#000" stroke-width="0.25" ><tspan font-style="italic">c</tspan></text>
<line x1="405" y1="778" x2="408" y2="778" stroke="#bbb" stroke-width="1" />
<text x="410" y="780.8" font-size="9.3" text-anchor="start" font-weight="bold" font-style="normal" fill="#000" stroke="#000" stroke-width="0.25" >cAMP+PS<tspan font-family="Liberation Serif, serif" font-weight="normal" font-size="120%" stroke="none" fill="#222">ζ</tspan></text>
<text x="398.8" y="790.8" font-size="9.3" text-anchor="start" font-weight="bold" font-style="normal" fill="#000" stroke="#000" stroke-width="0.25" ><tspan font-style="italic">d</tspan></text>
<line x1="405" y1="788" x2="408" y2="788" stroke="#bbb" stroke-width="1" />
<text x="410" y="790.8" font-size="9.3" text-anchor="start" font-weight="bold" font-style="normal" fill="#000" stroke="#000" stroke-width="0.25" >cAMP</text>
<text x="398.8" y="801.3" font-size="9.3" text-anchor="start" font-weight="bold" font-style="normal" fill="#000" stroke="#000" stroke-width="0.25" ><tspan font-style="italic">e</tspan></text>
<line x1="405" y1="798.5" x2="408" y2="798.5" stroke="#bbb" stroke-width="1" />
<text x="410" y="801.3" font-size="9.3" text-anchor="start" font-weight="bold" font-style="normal" fill="#000" stroke="#000" stroke-width="0.25" >cAMP+NF-<tspan font-family="Liberation Serif, serif" font-weight="normal" font-size="110%">κ</tspan>B <tspan font-size="8" dx="0.5">inh</tspan></text>
<text x="356.5" y="820.3" font-size="9.3" text-anchor="middle" font-weight="bold" font-style="italic" fill="#000" stroke="#000" stroke-width="0.25" >a</text>
<text x="417.6" y="813.6" font-size="9.3" text-anchor="middle" font-weight="bold" font-style="italic" fill="#000" stroke="#000" stroke-width="0.25" >b</text>
<text x="432" y="818" font-size="9.3" text-anchor="middle" font-weight="bold" font-style="italic" fill="#000" stroke="#000" stroke-width="0.25" >c</text>
<text x="446.2" y="818" font-size="9.3" text-anchor="middle" font-weight="bold" font-style="italic" fill="#000" stroke="#000" stroke-width="0.25" >d</text>
<text x="455" y="832.4" font-size="9.3" text-anchor="middle" font-weight="bold" font-style="italic" fill="#000" stroke="#000" stroke-width="0.25" >e</text>
<path d="M396.0 861.5 L396.9 860.9 L397.9 860.6 L398.8 859.6 L399.7 858.6 L400.6 857.6 L401.4 856.1 L402.3 855.4 L403.2 853.7 L404.1 852.1 L405.1 849.1 L406.0 847.5 L406.9 845.2 L407.9 843.7 L408.9 840.5 L410.0 835.9 L411.0 835.2 L411.9 832.7 L412.8 829.4 L413.6 826.8 L414.5 823.1 L415.4 821.3 L416.4 821.0 L417.3 818.3 L418.2 819.8 L419.1 821.2 L420.0 821.8 L421.0 825.2 L422.0 827.5 L423.0 830.9 L423.9 833.2 L424.9 836.8 L425.8 839.6 L426.8 843.2 L427.7 845.9 L428.7 847.4 L429.6 850.3 L430.6 852.0 L431.6 853.5 L432.5 855.0 L433.5 856.3 L434.4 857.0 L435.4 857.8 L436.4 858.4 L437.3 859.7 L438.2 860.2 L439.2 861.3 L440.2 861.1 L441.2 861.6 L442.1 861.6 L443.1 861.2 L444.1 861.5 L445.1 862.1 L446.1 861.9 L447.1 862.4 L448.0 862.2 L449.0 862.1 L450 862.5" fill="none" stroke="#b8b8b8" stroke-width="1" stroke-dasharray="1.3 0.9" stroke-linejoin="round"/>
<path d="M328.7 862.8 L329.6 862.1 L330.4 861.2 L331.3 860.3 L332.1 859.7 L333.0 859.2 L333.9 858.0 L334.8 856.5 L335.7 855.4 L336.5 854.1 L337.4 852.9 L338.3 852.4 L339.2 850.7 L340.2 849.4 L341.1 847.7 L342.1 845.8 L343.1 844.8 L344.0 842.4 L345.0 841.5 L346.0 838.8 L346.9 837.2 L347.9 835.0 L348.9 833.1 L349.8 832.2 L350.8 830.0 L351.7 828.0 L352.6 827.7 L353.5 825.6 L354.5 825.4 L355.5 825.7 L356.5 825.0 L357.5 824.8 L358.5 826.7 L359.5 826.1 L360.4 827.6 L361.4 829.8 L362.3 830.5 L363.2 832.2 L364.2 833.7 L365.1 835.4 L366.1 837.9 L367.1 839.2 L368.0 841.4 L369.0 843.6 L370.0 846.1 L371.0 849.0 L372.0 851.0 L372.9 852.7 L373.9 854.5 L374.8 855.6 L375.6 856.2 L376.4 857.4 L377.2 858.0 L378.0 858.4 L378.9 858.7 L379.8 859.3 L380.6 859.7 L381.5 859.7 L382.5 860.3 L383.4 860.5 L384.4 860.7 L385.4 860.9 L386.3 861.0 L387.3 861.3 L388.2 861.8 L389.0 861.6 L389.9 861.8 L390.7 861.8 L391.6 862.1 L392.4 862.1 L393.3 862.0 L394.1 862.1 L395 862.3" fill="none" stroke="#2a2a2a" stroke-width="1.3" stroke-dasharray="2.2 1.6" stroke-linejoin="round"/>
<path d="M412.0 862.7 L413.0 861.9 L414.0 861.7 L415.0 861.7 L416.0 861.8 L417.0 861.3 L418.0 860.7 L419.0 861.1 L420.0 860.0 L421.0 859.5 L422.0 859.5 L423.0 859.5 L424.0 858.7 L425.0 858.6 L426.0 857.6 L427.0 856.7 L428.0 854.8 L429.0 854.0 L430.0 853.7 L430.9 852.2 L431.8 849.7 L432.8 848.0 L433.7 845.9 L434.6 842.7 L435.5 840.0 L436.4 837.5 L437.4 838.3 L438.3 835.3 L439.2 833.9 L440.1 829.5 L441.0 830.5 L442.0 828.8 L442.9 828.5 L443.8 825.9 L444.9 827.7 L445.9 824.0 L447.0 825.2 L447.9 826.7 L448.7 828.1 L449.6 828.3 L450.7 828.9 L451.9 829.9 L453.0 831.0 L453.9 830.7 L454.9 833.5 L455.8 836.0 L456.8 837.6 L457.7 837.7 L458.7 840.7 L459.6 842.7 L460.6 843.5 L461.6 845.4 L462.5 846.4 L463.5 848.7 L464.6 850.5 L465.8 851.1 L466.9 853.9 L468.0 856.2 L469.0 856.7 L469.9 857.1 L470.9 857.3 L471.9 858.4 L472.8 858.9 L473.8 859.4 L474.8 860.2 L475.8 859.7 L476.8 860.8 L477.8 860.3 L478.8 861.2 L479.8 861.5 L480.8 861.6 L481.8 862.1 L482.8 862.1 L483.8 862.3 L484.7 862.7 L485.7 862.3 L486.7 862.3 L487.7 862.6 L488.7 863.0 L489.8 862.6 L490.8 862.6 L491.8 863.2 L492.8 863.0 L493.9 862.9 L494.9 863.2 L495.9 862.8 L496.9 863.1 L497.9 862.7 L499.0 862.9 L500 863" fill="none" stroke="#4a4a4a" stroke-width="0.9" stroke-dasharray="1.4 0.8" stroke-linejoin="round"/>
<path d="M405.0 862.8 L406.0 862.7 L407.0 862.6 L407.9 861.9 L408.9 861.9 L409.9 861.5 L410.9 861.1 L411.8 861.3 L412.8 861.5 L413.8 861.4 L414.8 860.9 L415.8 860.8 L416.9 859.6 L417.9 859.1 L418.9 859.1 L419.9 858.5 L421.0 858.0 L422.0 857.9 L423.0 857.9 L424.0 856.5 L425.0 855.0 L426.0 854.9 L427.0 854.1 L428.0 851.8 L429.0 849.7 L430.0 848.4 L430.9 848.8 L431.8 844.5 L432.8 844.8 L433.7 842.5 L434.6 839.7 L435.5 839.0 L436.4 833.4 L437.4 831.3 L438.3 830.1 L439.2 825.8 L440.1 827.8 L440.9 824.3 L441.8 822.7 L442.7 821.2 L443.9 822.8 L445.0 821.4 L446.1 821.8 L447.3 821.6 L448.3 823.7 L449.3 825.8 L450.3 826.1 L451.2 829.1 L452.1 835.0 L453.0 838.8 L454.2 842.2 L455.4 847.6 L456.3 849.8 L457.2 850.0 L458.2 851.8 L459.1 853.5 L460.0 855.8 L461.0 856.3 L462.0 857.3 L463.0 858.4 L464.0 858.7 L465.0 860.1 L466.0 861.1 L467.0 860.5 L468.0 861.8 L469.0 861.9 L470.0 861.6 L471.0 862.3 L472.0 862.5 L473.0 862.8 L474.0 862.3 L475.0 862.5 L476.0 862.9 L477.0 862.8 L478.0 863.0 L479.0 862.6 L480.0 862.8 L481.0 862.4 L482.0 862.9 L483.0 863.0 L484.0 862.9 L485.0 863.0 L486.0 862.6 L487.0 863.3 L488.0 863.4 L489.0 863.4 L490 863" fill="none" stroke="#777" stroke-width="1.4" stroke-linejoin="round"/>
<path d="M386.0 862.0 L387.0 862.2 L388.0 861.5 L389.0 862.1 L390.0 861.9 L391.0 861.1 L392.0 860.6 L393.0 860.9 L394.0 860.8 L395.0 860.8 L396.0 860.1 L397.0 859.2 L398.0 860.0 L399.0 858.6 L400.0 859.5 L401.0 858.1 L402.0 857.9 L403.0 858.3 L404.0 856.7 L405.0 856.3 L406.1 856.3 L407.1 856.1 L408.1 855.6 L409.2 854.6 L410.1 854.5 L411.1 852.6 L412.1 853.0 L413.0 849.9 L414.1 848.6 L415.1 847.9 L416.2 845.5 L417.1 845.3 L418.1 843.3 L419.0 841.1 L420.0 840.4 L420.9 837.0 L421.9 833.8 L422.8 831.5 L423.6 831.0 L424.5 828.6 L425.4 822.9 L426.3 824.9 L427.1 824.5 L428.0 821.6 L429.0 821.4 L430.0 819.3 L431.2 821.2 L432.5 821.5 L433.6 823.0 L434.6 821.4 L435.7 830.1 L436.9 832.5 L438.0 836.5 L438.9 840.8 L439.9 842.2 L440.8 844.5 L441.8 847.7 L442.7 848.3 L443.6 851.4 L444.4 852.8 L445.3 855.8 L446.2 857.3 L447.1 856.7 L448.1 857.7 L449.1 857.7 L450.0 858.9 L451.0 859.9 L452.0 860.5 L453.0 860.3 L454.0 860.2 L455.1 860.1 L456.1 860.9 L457.1 861.4 L458.2 860.5 L459.2 861.5 L460.2 860.6 L461.3 861.0 L462.3 861.2 L463.3 861.8 L464.3 861.4 L465.2 861.6 L466.2 861.9 L467.2 861.4 L468.2 862.2 L469.1 861.6 L470.1 862.1 L471.1 861.9 L472.1 861.9 L473.0 862.4 L474.0 862.4 L475 862.5" fill="none" stroke="#1e1e1e" stroke-width="1.3" stroke-linejoin="round"/>
<path d="M329 863.3 L331 863.5 L333 863.6 L335 863.7 L337 863.5 L339 863.7 L341 862.6 L343 863.2 L345 863.7 L347 863.4 L349 863.7 L351 862.7 L353 863.2 L355 862.9 L357 863.3 L359 863.3 L361 862.6 L363 862.9 L365 862.9 L367 863.7 L369 863.5 L371 862.8 L373 863.6 L375 862.8 L377 863.3 L379 862.8 L381 862.6 L383 863.6 L385 862.9 L387 862.9 L389 863.8 L391 863.6 L393 862.9 L395 863.8 L397 863.2 L399 863.4 L401 862.8 L403 863.7 L405 863.4 L407 863.8 L409 863.7 L411 863.0 L413 863.0 L415 862.8 L417 862.8 L419 862.7 L421 863.0 L423 863.3 L425 862.6 L427 863.4 L429 863.0 L431 863.0 L433 863.6 L435 863.2 L437 863.0 L439 863.2 L441 863.4 L443 862.7 L445 863.8 L447 862.6 L449 863.5 L451 863.6 L453 862.6 L455 863.5 L457 863.0 L459 863.3 L461 862.6 L463 862.7 L465 862.8 L467 863.7 L469 862.8 L471 863.5 L473 863.7 L475 863.7 L477 863.0 L479 863.0 L481 863.2 L483 863.5 L485 862.7 L487 863.5 L489 863.6 L491 863.6 L493 862.6 L495 863.7 L497 862.7 L499 863.0 L501 863.3 L503 863.7 L505 863.0 L507 863.7" fill="none" stroke="#555" stroke-width="0.8"/>
<path d="M470 862.8 L471 862.4 L472 862.4 L473 862.2 L474 862.0 L475 862.1 L476 863.0 L477 863.5 L478 862.2 L479 862.0 L480 863.5 L481 862.8 L482 862.5 L483 862.3 L484 862.9 L485 863.2 L486 862.6 L487 862.6 L488 862.0 L489 863.4 L490 862.0 L491 862.7 L492 863.2 L493 862.1 L494 863.1 L495 863.4 L496 862.9 L497 863.2 L498 862.1 L499 862.6 L500 862.1 L501 863.3 L502 862.4 L503 862.6 L504 863.5 L505 863.3 L506 863.5 L507 862.6 L508 862.7" fill="none" stroke="#222" stroke-width="1"/>
<line x1="328" y1="873.2" x2="396" y2="873.2" stroke="#3a3a3a" stroke-width="1.3" />
<line x1="435" y1="873.2" x2="501" y2="873.2" stroke="#3a3a3a" stroke-width="1.3" />
<path d="M508.8 873.2L499.4 870.1V876.3Z" fill="#111"/>
<text x="415.6" y="876.6" font-size="9.4" text-anchor="middle" font-weight="bold" font-style="normal" fill="#000" stroke="#000" stroke-width="0.25" >P-CREB</text>
</svg></body></html>
